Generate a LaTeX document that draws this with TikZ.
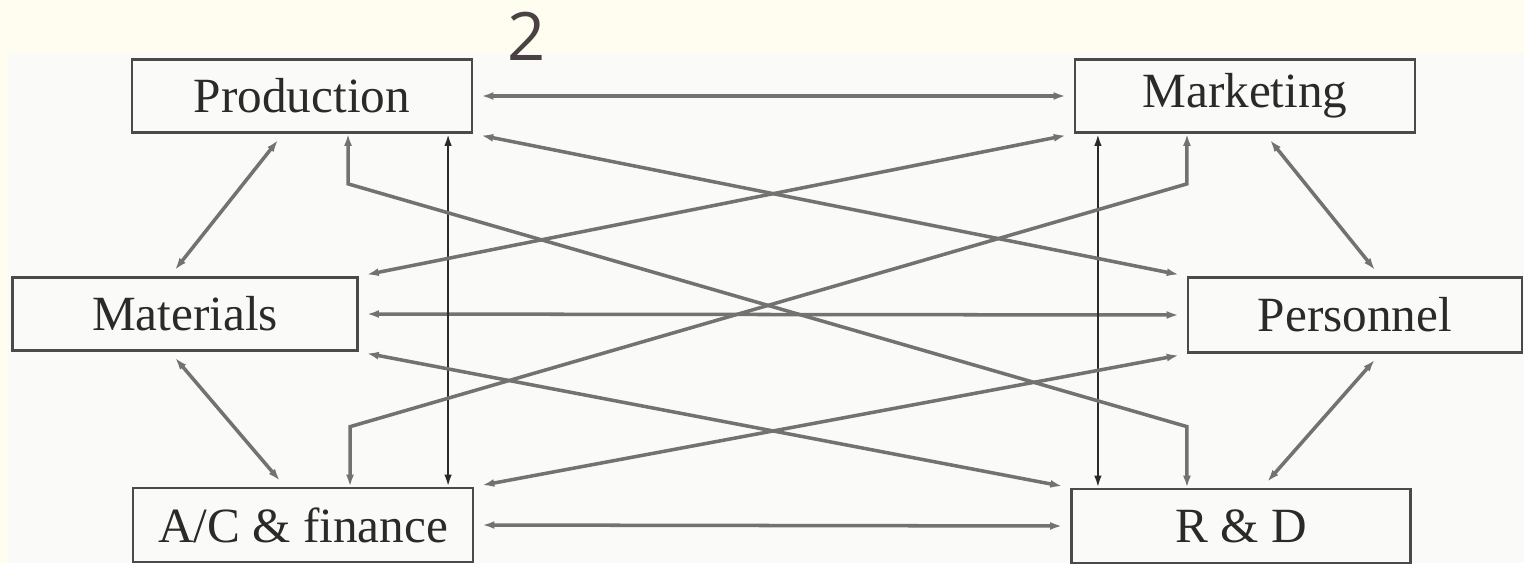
\documentclass[tikz,border=0pt]{standalone}
\usepackage{fontspec}
\setmainfont{Liberation Serif}
\newfontfamily\pagefont{Open Sans}
\usepackage{xcolor}
\usetikzlibrary{arrows.meta, calc}

\definecolor{pagebg}{HTML}{FFFDF0}
\definecolor{photobg}{HTML}{FAFAF8}
\definecolor{boxgrey}{HTML}{4A4A4A}
\definecolor{linegrey}{HTML}{727272}
\definecolor{inkgrey}{HTML}{2A2A2A}
\definecolor{numgrey}{HTML}{4A4242}

\begin{document}
\begin{tikzpicture}[
    x=0.01cm, y=-0.01cm,
    deptbox/.style={draw=boxgrey, line width=0.75pt, rectangle, minimum width=3.4cm, minimum height=0.73cm, inner sep=0pt, text=inkgrey, font=\fontsize{14}{16}\selectfont},
    link/.style={{Latex[length=1.2mm,width=0.8mm]}-{Latex[length=1.2mm,width=0.8mm]}, draw=linegrey, line width=1pt, shorten <=0.08cm, shorten >=0.08cm},
    vlink/.style={{Latex[length=1.2mm,width=0.75mm]}-{Latex[length=1.2mm,width=0.75mm]}, draw=inkgrey, line width=0.65pt}
]

    % ================= PAGE AND PHOTO =================
    \useasboundingbox (0,0) rectangle (1524,563);
    \fill[pagebg] (0,0) rectangle (1524,563);
    \fill[photobg] (8,53) rectangle (1524,563);
    \node[font=\pagefont\fontsize{19}{22}\selectfont, text=numgrey] (pagenum) at (527,36) {2};

    % ================= DEPARTMENTS =================
    \node[deptbox] (prod) at (302,96) {Production};
    \node[deptbox] (mkt) at (1245,96) {Marketing};
    \node[deptbox, minimum width=3.45cm] (mat) at (185,314) {Materials};
    \node[deptbox, minimum width=3.34cm, minimum height=0.75cm] (pers) at (1355,315) {Personnel};
    \node[deptbox, minimum height=0.74cm] (acf) at (303,525) {A/C \& finance};
    \node[deptbox, minimum width=3.39cm, minimum height=0.74cm] (rd) at (1241,526) {R \& D};

    % ================= HORIZONTAL LINKS =================
    \draw[link] (prod.east) -- (mkt.west);
    \draw[link] (mat.east) -- (pers.west);
    \draw[link] (acf.east) -- (rd.west);

    % ================= SIDE LINKS =================
    \draw[link] ([xshift=-0.19cm]prod.south) -- ([xshift=-0.15cm]mat.north);
    \draw[link] ([xshift=-0.15cm]mat.south) -- ([xshift=-0.18cm]acf.north);
    \draw[link] ([xshift=0.2cm]mkt.south) -- ([xshift=0.25cm]pers.north);
    \draw[link] ([xshift=0.25cm]pers.south) -- ([xshift=0.21cm]rd.north);

    % ================= VERTICAL LINKS =================
    \draw[vlink] ([xshift=1.46cm]prod.south) -- ([xshift=1.46cm]prod.south |- acf.north);
    \draw[vlink] ([xshift=-1.47cm]mkt.south) -- ([xshift=-1.47cm]mkt.south |- rd.north);

    % ================= CROSS LINKS =================
    \draw[link] (prod.south east) -- (pers.north west);
    \draw[link] (mkt.south west) -- (mat.north east);
    \draw[link] (mat.south east) -- (rd.north west);
    \draw[link] (acf.north east) -- (pers.south west);

    % elbow links
    \draw[link, shorten <=0pt, shorten >=0pt] ([xshift=0.46cm]prod.south) -- ++(0,50) -- ([xshift=-0.54cm, yshift=0.61cm]rd.north) -- ([xshift=-0.54cm]rd.north);
    \draw[link, shorten <=0pt, shorten >=0pt] ([xshift=0.47cm]acf.north) -- ++(0,-60) -- ([xshift=-0.58cm, yshift=-0.5cm]mkt.south) -- ([xshift=-0.58cm]mkt.south);

\end{tikzpicture}
\end{document}
